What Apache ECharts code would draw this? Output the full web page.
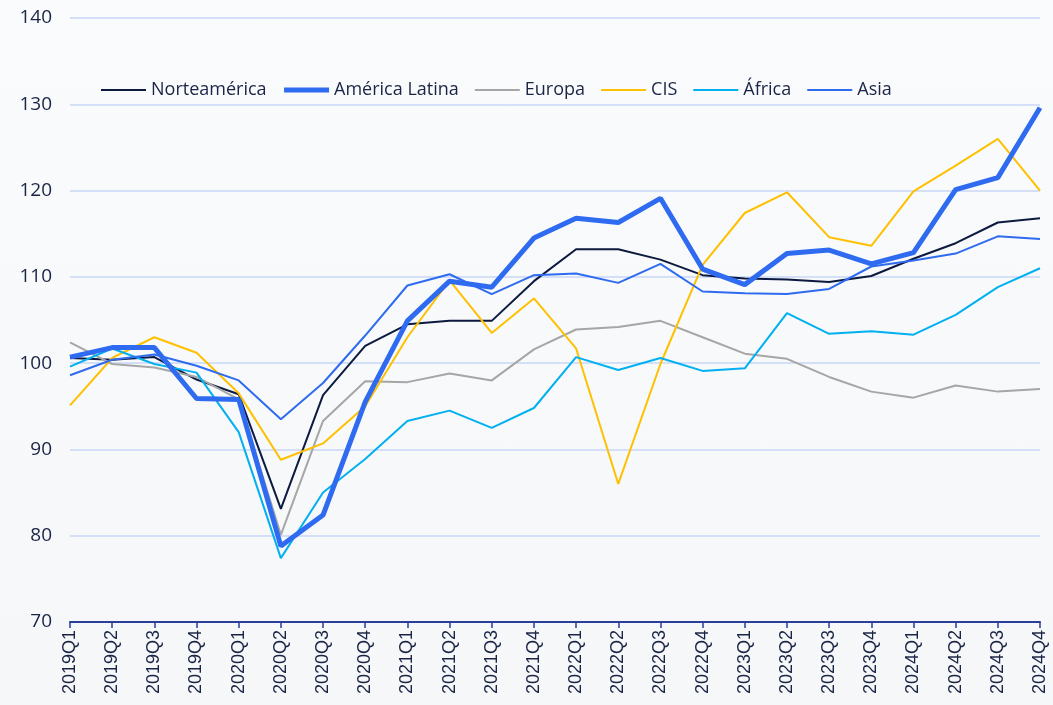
<!DOCTYPE html>
<html>
<head>
<meta charset="utf-8">
<script src="https://cdn.jsdelivr.net/npm/echarts@6/dist/echarts.min.js"></script>
<style>
html, body { margin: 0; padding: 0; }
#main {
  width: 1053px;
  height: 705px;
  background: linear-gradient(#fafbfd, #f6f7f9);
}
</style>
</head>
<body>
<div id="main"></div>
<script>
var quarters = ['2019Q1', '2019Q2', '2019Q3', '2019Q4', '2020Q1', '2020Q2', '2020Q3', '2020Q4',
  '2021Q1', '2021Q2', '2021Q3', '2021Q4', '2022Q1', '2022Q2', '2022Q3', '2022Q4',
  '2023Q1', '2023Q2', '2023Q3', '2023Q4', '2024Q1', '2024Q2', '2024Q3', '2024Q4']

var norteamerica = [100.6, 100.4, 100.7, 98.1, 96.4, 83.1, 96.3, 102.0, 104.5, 104.9, 104.9, 109.5,
  113.2, 113.2, 112.0, 110.2, 109.8, 109.7, 109.4, 110.1, 112.1, 113.9, 116.3, 116.8]
var americaLatina = [100.7, 101.8, 101.8, 95.9, 95.8, 78.8, 82.4, 95.5, 104.9, 109.5, 108.8, 114.5,
  116.8, 116.3, 119.1, 110.9, 109.1, 112.7, 113.1, 111.5, 112.8, 120.1, 121.5, 129.6]
var europa = [102.4, 99.9, 99.5, 98.4, 95.8, 80.1, 93.3, 97.9, 97.8, 98.8, 98.0, 101.6,
  103.9, 104.2, 104.9, 103.0, 101.1, 100.5, 98.4, 96.7, 96.0, 97.4, 96.7, 97.0]
var cis = [95.1, 100.6, 103.0, 101.2, 96.5, 88.8, 90.7, 95.0, 103.0, 109.6, 103.5, 107.5,
  101.7, 86.0, 99.9, 111.4, 117.4, 119.8, 114.6, 113.6, 119.9, 122.9, 126.0, 120.0]
var africa = [99.6, 101.7, 99.9, 98.9, 92.0, 77.4, 85.0, 88.9, 93.3, 94.5, 92.5, 94.8,
  100.7, 99.2, 100.6, 99.1, 99.4, 105.8, 103.4, 103.7, 103.3, 105.6, 108.8, 111.0]
var asia = [98.6, 100.4, 101.0, 99.7, 98.0, 93.5, 97.7, 103.2, 109.0, 110.3, 108.0, 110.2,
  110.4, 109.3, 111.5, 108.3, 108.1, 108.0, 108.6, 111.2, 111.9, 112.7, 114.7, 114.4]

var names = ['Norteamérica', 'América Latina', 'Europa', 'CIS', 'África', 'Asia']
var colors = ['#0c1a3f', '#2f6bf0', '#a6a6a6', '#ffc000', '#00b0f0', '#2f6bee']
var widths = [2, 5, 2, 2, 2, 2]
var values = [norteamerica, americaLatina, europa, cis, africa, asia]

var textColor = '#1a2445'

var myChart = echarts.init(document.getElementById('main'))
myChart.setOption({
  animation: false,
  color: colors,
  // leyenda: solo la linea, sin simbolo
  legend: {
    left: 95,
    top: 76,
    itemWidth: 45,
    itemHeight: 14,
    itemGap: 15,
    textStyle: {
      color: textColor,
      fontFamily: 'Open Sans',
      fontSize: 18
    },
    data: names.map(function (n, i) {
      return {
        name: n,
        itemStyle: { opacity: 0 },
        lineStyle: { width: widths[i], color: colors[i] }
      }
    })
  },
  grid: {
    left: 70,
    right: 13,
    top: 18,
    bottom: 83,
    containLabel: false
  },
  xAxis: {
    type: 'category',
    boundaryGap: false,
    data: quarters,
    axisLine: {
      lineStyle: { color: '#2a3f9a', width: 2 }
    },
    axisTick: {
      alignWithLabel: true,
      length: 6,
      lineStyle: { color: '#2a3f9a', width: 1.5 }
    },
    axisLabel: {
      interval: 0,
      rotate: 90,
      margin: 8,
      color: textColor,
      fontFamily: 'Liberation Sans',
      fontSize: 18
    }
  },
  yAxis: {
    type: 'value',
    min: 70,
    max: 140,
    interval: 10,
    axisLine: { show: false },
    axisTick: { show: false },
    axisLabel: {
      margin: 18,
      color: textColor,
      fontFamily: 'Open Sans',
      fontSize: 19
    },
    splitLine: {
      lineStyle: { color: '#c8d6f7', width: 1.5 }
    }
  },
  series: names.map(function (n, i) {
    return {
      name: n,
      type: 'line',
      symbol: 'none',
      data: values[i],
      z: i === 1 ? 5 : 2,
      lineStyle: { width: widths[i], color: colors[i] }
    }
  })
})
</script>
</body>
</html>
